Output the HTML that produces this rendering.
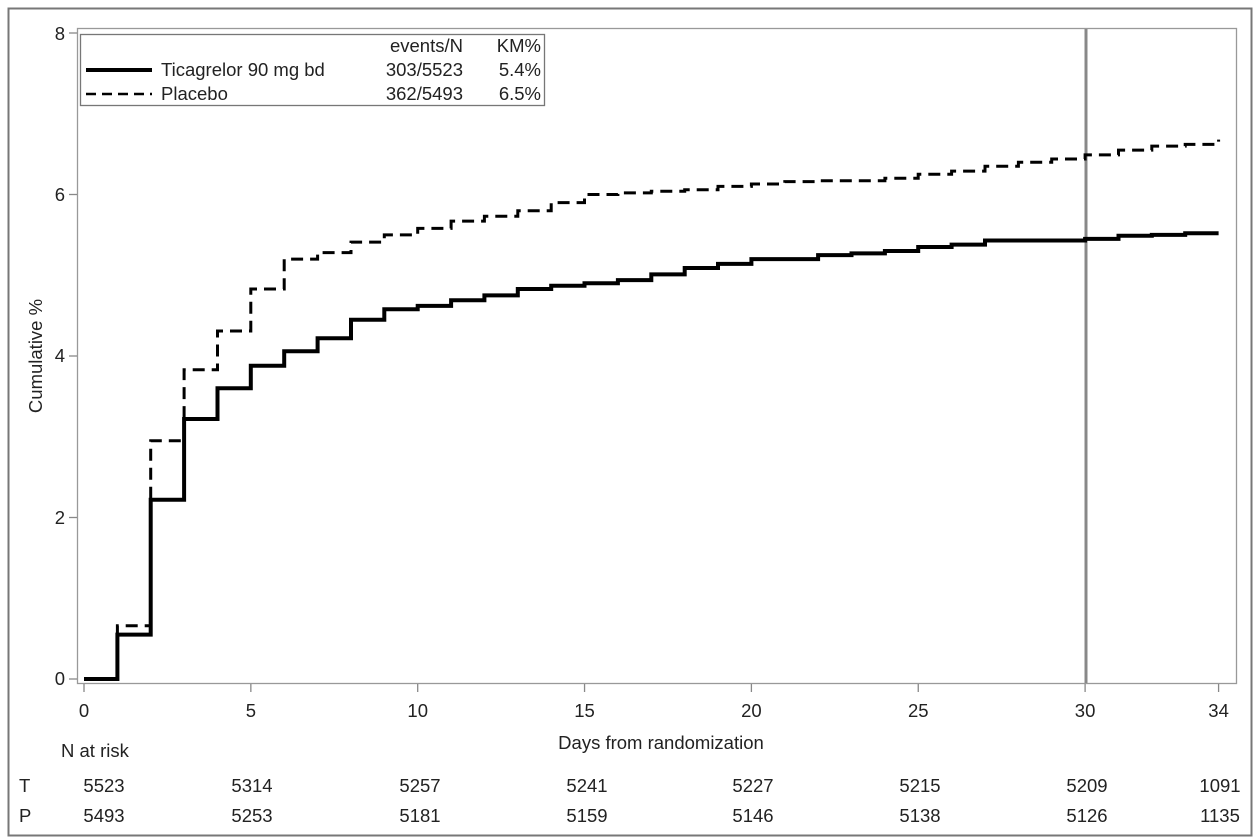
<!DOCTYPE html>
<html><head><meta charset="utf-8"><style>
body{margin:0;background:#fff;}
svg{display:block;font-family:"Liberation Sans",Arial,sans-serif;}
</style></head><body>
<svg id="s" width="1256" height="840" xmlns="http://www.w3.org/2000/svg">
<rect x="0" y="0" width="1256" height="840" fill="#fff"/>
<rect x="8.5" y="8.5" width="1243" height="827" fill="none" stroke="#777" stroke-width="2"/>
<rect x="77.5" y="28.5" width="1159" height="655" fill="none" stroke="#999" stroke-width="1.3"/>
<line x1="1086" y1="29" x2="1086" y2="683" stroke="#888" stroke-width="3"/>
<g id="ticks" stroke="#888" stroke-width="1.3"></g>
<g font-size="18.5" fill="#222" text-anchor="end">
<text x="65" y="685">0</text><text x="65" y="524">2</text><text x="65" y="362">4</text><text x="65" y="201">6</text><text x="65" y="40">8</text>
</g>
<g font-size="18.5" fill="#222" text-anchor="middle" id="xl"></g>
<text x="0" y="0" font-size="18.5" fill="#222" text-anchor="middle" transform="translate(42,356) rotate(-90)">Cumulative %</text>
<text x="661" y="749" font-size="18.5" fill="#222" text-anchor="middle">Days from randomization</text>
<text x="61" y="757" font-size="18.5" fill="#222">N at risk</text>
<g font-size="18.5" fill="#222">
<text x="19" y="792">T</text><text x="19" y="822">P</text>
</g>
<g font-size="18.5" fill="#222" text-anchor="middle" id="nr"></g>
<path id="pp" fill="none" stroke="#000" stroke-width="3" stroke-dasharray="12,7"/>
<path id="tp" fill="none" stroke="#000" stroke-width="4"/>
<rect x="80.5" y="34.5" width="464" height="71" fill="#fff" stroke="#777" stroke-width="1.3"/>
<line x1="86" y1="70" x2="152" y2="70" stroke="#000" stroke-width="4"/>
<line x1="86" y1="94" x2="152" y2="94" stroke="#000" stroke-width="2.5" stroke-dasharray="10,6"/>
<g font-size="18.5" fill="#222">
<text x="161" y="76">Ticagrelor 90 mg bd</text>
<text x="161" y="100">Placebo</text>
</g>
<g font-size="18.5" fill="#222" text-anchor="end">
<text x="463" y="52">events/N</text><text x="541" y="52">KM%</text>
<text x="463" y="76">303/5523</text><text x="541" y="76">5.4%</text>
<text x="463" y="100">362/5493</text><text x="541" y="100">6.5%</text>
</g>
</svg>
<script>
var X=function(d){return 84+33.37*d},Y=function(v){return 679-80.75*v};
var T=[0,.55,2.22,3.22,3.6,3.88,4.06,4.22,4.45,4.58,4.62,4.69,4.75,4.83,4.87,4.9,4.94,5.01,5.09,5.14,5.2,5.2,5.25,5.27,5.3,5.35,5.38,5.43,5.43,5.43,5.45,5.49,5.5,5.52];
var P=[0,.66,2.95,3.83,4.31,4.83,5.2,5.28,5.41,5.5,5.58,5.67,5.73,5.8,5.9,6.0,6.02,6.04,6.06,6.1,6.13,6.16,6.17,6.17,6.2,6.25,6.29,6.35,6.4,6.44,6.49,6.55,6.6,6.62];
function path(a,end){var s="M"+X(0)+","+Y(0);for(var i=0;i<a.length;i++){s+=" V"+Y(a[i]).toFixed(1)+" H"+X(i+1>end?end:i+1).toFixed(1);}return s;}
document.getElementById("tp").setAttribute("d",path(T,34));
var pd=path(P,34)+" V"+Y(6.68).toFixed(1);
document.getElementById("pp").setAttribute("d",pd);
var ns="http://www.w3.org/2000/svg",tk=document.getElementById("ticks"),xl=document.getElementById("xl");
function el(p,n,at,t){var e=document.createElementNS(ns,n);for(var k in at)e.setAttribute(k,at[k]);if(t!=null)e.textContent=t;p.appendChild(e);}
[0,5,10,15,20,25,30,34].forEach(function(d){el(tk,"line",{x1:X(d),y1:684,x2:X(d),y2:692});el(xl,"text",{x:X(d),y:717},d);});
[0,2,4,6,8].forEach(function(v){el(tk,"line",{x1:69,y1:Y(v),x2:77,y2:Y(v)});});
var nt=[5523,5314,5257,5241,5227,5215,5209,1091],np=[5493,5253,5181,5159,5146,5138,5126,1135],nrx=[104,252,420,587,753,920,1087,1220];
var nr=document.getElementById("nr");
for(var i=0;i<8;i++){el(nr,"text",{x:nrx[i],y:792},nt[i]);el(nr,"text",{x:nrx[i],y:822},np[i]);}
</script>
</body></html>
